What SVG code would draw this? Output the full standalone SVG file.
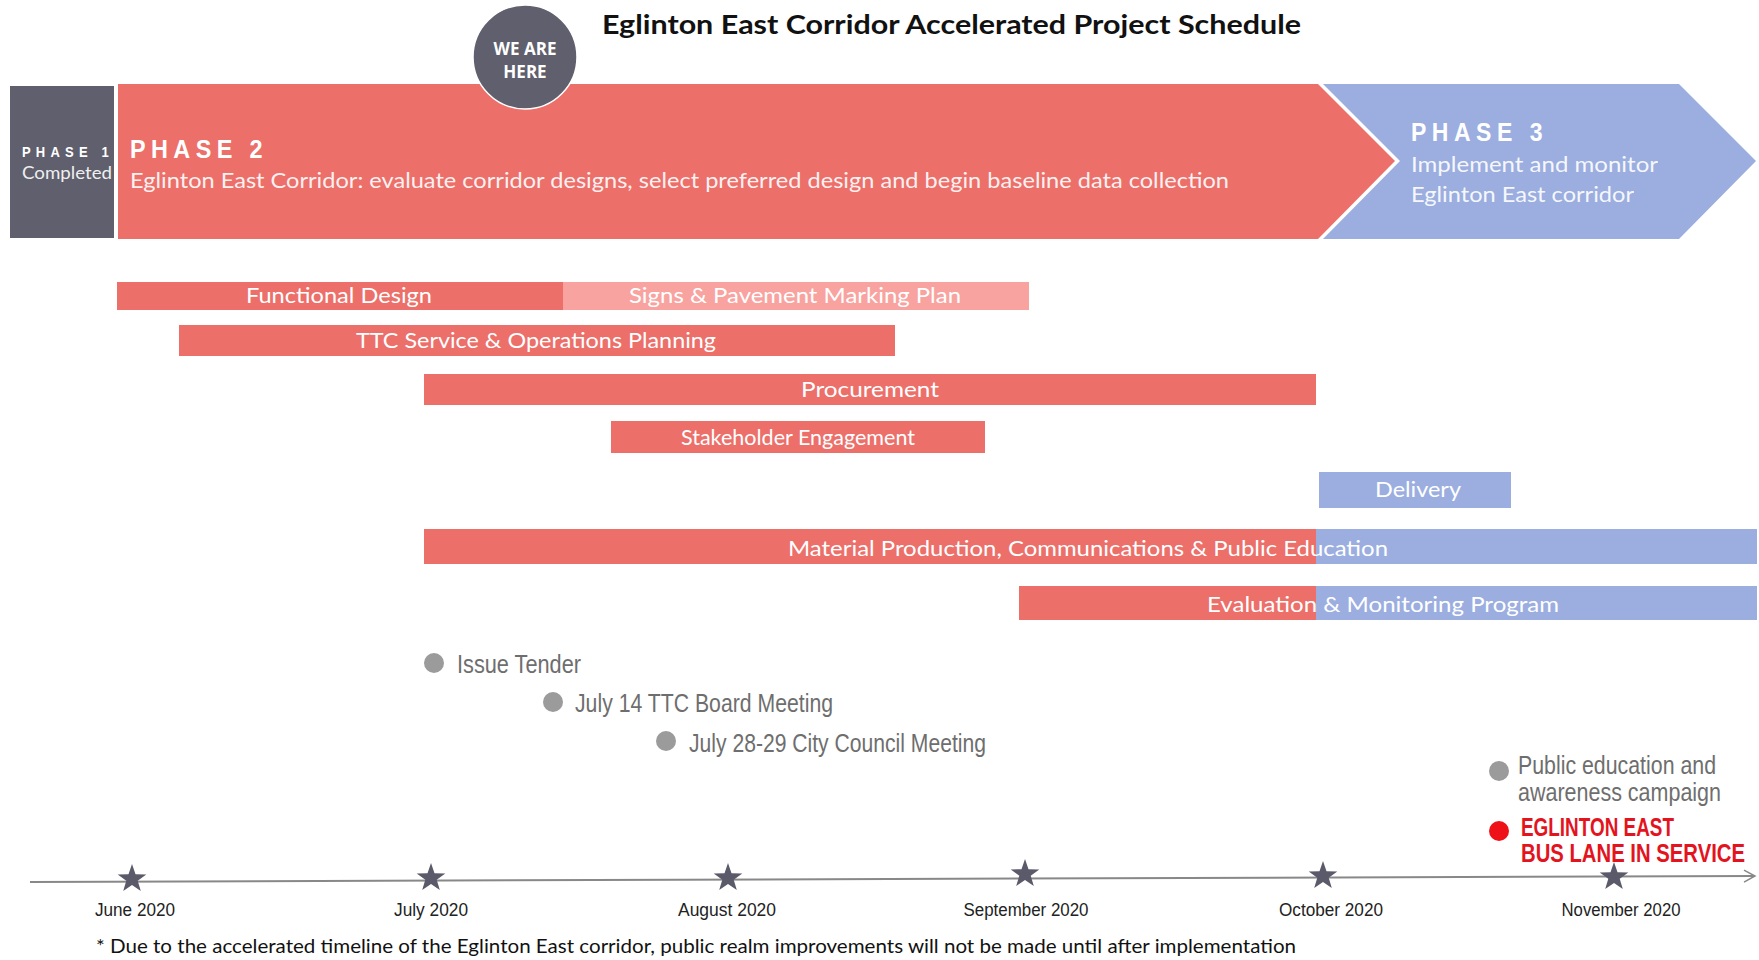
<svg xmlns="http://www.w3.org/2000/svg" width="1759" height="960" viewBox="0 0 1759 960">
<defs>
<style>
.bg{fill:#ffffff}
.red{fill:#EC6F6A}
.pink{fill:#F8A3A0}
.blue{fill:#9BAEDF}
.gray{fill:#605F6D}
.dot{fill:#9B9B9B}
.barTxt{font-family:"Lato","Open Sans",sans-serif;font-size:22px;fill:#ffffff;text-anchor:middle}
.phTitle{font-family:"Liberation Sans",Arial,sans-serif;font-weight:bold;fill:#ffffff;letter-spacing:6px}
.phDesc{font-family:"Lato","Open Sans",sans-serif;fill:#ffffff;opacity:0.9}
.ms{font-family:"Liberation Sans",Arial,sans-serif;font-size:25px;fill:#6E6E6E}
.mon{font-family:"Liberation Sans",Arial,sans-serif;font-size:18px;fill:#222222;text-anchor:middle}
.svc{font-family:"Liberation Sans",Arial,sans-serif;font-weight:bold;font-size:25px;fill:#E3141E}
</style>
<polygon id="star" points="0,-15 3.5,-4.8 14.3,-4.6 5.7,1.8 8.8,12.1 0,6 -8.8,12.1 -5.7,1.8 -14.3,-4.6 -3.5,-4.8" fill="#5A5A6A"/>
<marker id="arr" markerWidth="14" markerHeight="14" refX="12" refY="7" orient="auto" markerUnits="userSpaceOnUse">
<path d="M1,1 L12,7 L1,13" fill="none" stroke="#888888" stroke-width="1.5"/>
</marker>
</defs>
<rect class="bg" x="0" y="0" width="1759" height="960"/>

<text x="602" y="34" font-family="Lato,'Open Sans',sans-serif" font-weight="bold" font-size="27" fill="#111111" textLength="699" lengthAdjust="spacingAndGlyphs">Eglinton East Corridor Accelerated Project Schedule</text>

<g id="phase1">
<rect class="gray" x="10" y="86" width="104" height="152"/>
<text class="phTitle" x="22" y="157" font-size="15" textLength="92" lengthAdjust="spacingAndGlyphs">PHASE 1</text>
<text class="phDesc" x="22" y="179" font-size="18" textLength="90" lengthAdjust="spacingAndGlyphs">Completed</text>
</g>

<g id="phase2">
<polygon class="red" points="118,84 1318,84 1395,161 1318,239 118,239"/>
<text class="phTitle" x="130" y="158" font-size="26" textLength="138" lengthAdjust="spacingAndGlyphs">PHASE 2</text>
<text class="phDesc" x="130" y="188" font-size="22" textLength="1099" lengthAdjust="spacingAndGlyphs">Eglinton East Corridor: evaluate corridor designs, select preferred design and begin baseline data collection</text>
</g>

<g id="phase3">
<polygon class="blue" points="1323,84 1679,84 1756,161 1679,239 1323,239 1400,161"/>
<text class="phTitle" x="1411" y="141" font-size="25" textLength="137" lengthAdjust="spacingAndGlyphs">PHASE 3</text>
<text class="phDesc" x="1411" y="172" font-size="22" textLength="247" lengthAdjust="spacingAndGlyphs">Implement and monitor</text>
<text class="phDesc" x="1411" y="202" font-size="22" textLength="223" lengthAdjust="spacingAndGlyphs">Eglinton East corridor</text>
</g>

<g id="we-are-here">
<circle cx="525" cy="57" r="52" class="gray" stroke="#ffffff" stroke-width="1.5"/>
<text x="525" y="55" font-family="'Open Sans',Lato,sans-serif" font-weight="bold" font-size="17" fill="#ffffff" text-anchor="middle">WE ARE</text>
<text x="525" y="78" font-family="'Open Sans',Lato,sans-serif" font-weight="bold" font-size="17" fill="#ffffff" text-anchor="middle">HERE</text>
</g>

<g id="functional-design">
<rect class="red" x="117" y="282" width="446" height="28"/>
<text class="barTxt" x="339" y="303" textLength="186" lengthAdjust="spacingAndGlyphs">Functional Design</text>
</g>
<g id="signs-pavement">
<rect class="pink" x="563" y="282" width="466" height="28"/>
<text class="barTxt" x="795" y="303" textLength="332" lengthAdjust="spacingAndGlyphs">Signs &amp; Pavement Marking Plan</text>
</g>
<g id="ttc-service">
<rect class="red" x="179" y="325" width="716" height="31"/>
<text class="barTxt" x="536" y="348" textLength="360" lengthAdjust="spacingAndGlyphs">TTC Service &amp; Operations Planning</text>
</g>
<g id="procurement">
<rect class="red" x="424" y="374" width="892" height="31"/>
<text class="barTxt" x="870" y="397" textLength="138" lengthAdjust="spacingAndGlyphs">Procurement</text>
</g>
<g id="stakeholder">
<rect class="red" x="611" y="421" width="374" height="32"/>
<text class="barTxt" x="798" y="445" textLength="234" lengthAdjust="spacingAndGlyphs">Stakeholder Engagement</text>
</g>
<g id="delivery">
<rect class="blue" x="1319" y="472" width="192" height="36"/>
<text class="barTxt" x="1418" y="497" textLength="86" lengthAdjust="spacingAndGlyphs">Delivery</text>
</g>
<g id="material-production">
<rect class="red" x="424" y="529" width="893" height="35"/>
<rect class="blue" x="1316" y="529" width="441" height="35"/>
<text class="barTxt" x="1088" y="556" textLength="600" lengthAdjust="spacingAndGlyphs">Material Production, Communications &amp; Public Education</text>
</g>
<g id="evaluation">
<rect class="red" x="1019" y="586" width="298" height="34"/>
<rect class="blue" x="1316" y="586" width="441" height="34"/>
<text class="barTxt" x="1383" y="612" textLength="352" lengthAdjust="spacingAndGlyphs">Evaluation &amp; Monitoring Program</text>
</g>

<g id="issue-tender">
<circle class="dot" cx="434" cy="663" r="10"/>
<text class="ms" x="457" y="673" textLength="124" lengthAdjust="spacingAndGlyphs">Issue Tender</text>
</g>
<g id="ttc-board">
<circle class="dot" cx="553" cy="702" r="10"/>
<text class="ms" x="575" y="712" textLength="258" lengthAdjust="spacingAndGlyphs">July 14 TTC Board Meeting</text>
</g>
<g id="city-council">
<circle class="dot" cx="666" cy="741" r="10"/>
<text class="ms" x="689" y="752" textLength="297" lengthAdjust="spacingAndGlyphs">July 28-29 City  Council Meeting</text>
</g>
<g id="public-education">
<circle class="dot" cx="1499" cy="771" r="10"/>
<text class="ms" x="1518" y="774" textLength="198" lengthAdjust="spacingAndGlyphs">Public education and</text>
<text class="ms" x="1518" y="801" textLength="203" lengthAdjust="spacingAndGlyphs">awareness campaign</text>
</g>
<g id="bus-lane">
<circle cx="1499" cy="831" r="10" fill="#EE1118"/>
<text class="svc" x="1521" y="836" textLength="153" lengthAdjust="spacingAndGlyphs">EGLINTON EAST</text>
<text class="svc" x="1521" y="862" textLength="224" lengthAdjust="spacingAndGlyphs">BUS LANE IN SERVICE</text>
</g>

<g id="connectors">
<line x1="30" y1="882" x2="1755" y2="876" stroke="#888888" stroke-width="2" marker-end="url(#arr)"/>
</g>

<g id="timeline">
<use href="#star" x="132" y="879"/>
<use href="#star" x="431" y="878"/>
<use href="#star" x="728" y="878"/>
<use href="#star" x="1025" y="874"/>
<use href="#star" x="1323" y="876"/>
<use href="#star" x="1614" y="877"/>
<text class="mon" x="135" y="916" textLength="80" lengthAdjust="spacingAndGlyphs">June 2020</text>
<text class="mon" x="431" y="916" textLength="74" lengthAdjust="spacingAndGlyphs">July 2020</text>
<text class="mon" x="727" y="916" textLength="98" lengthAdjust="spacingAndGlyphs">August 2020</text>
<text class="mon" x="1026" y="916" textLength="125" lengthAdjust="spacingAndGlyphs">September 2020</text>
<text class="mon" x="1331" y="916" textLength="104" lengthAdjust="spacingAndGlyphs">October 2020</text>
<text class="mon" x="1621" y="916" textLength="119" lengthAdjust="spacingAndGlyphs">November 2020</text>
</g>

<text x="96" y="953" font-family="Lato,'Open Sans',sans-serif" font-size="19" fill="#111111" textLength="1200" lengthAdjust="spacingAndGlyphs">* Due to the accelerated timeline of the Eglinton East corridor, public realm improvements  will not be made until after implementation</text>
</svg>
